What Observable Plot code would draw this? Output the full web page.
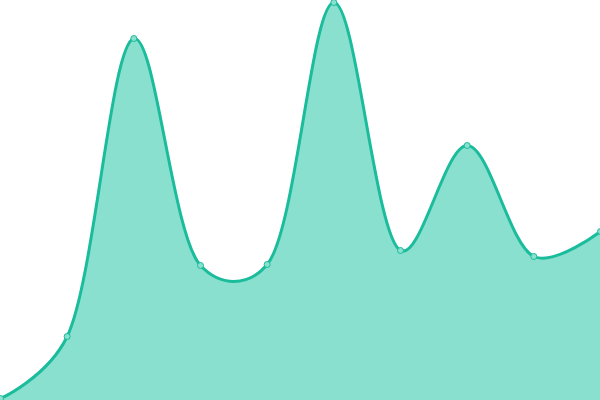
<!DOCTYPE html>
<html>
<head>
<meta charset="utf-8">
<script src="https://cdn.jsdelivr.net/npm/d3@7"></script>
<script src="https://cdn.jsdelivr.net/npm/@observablehq/plot@0.6"></script>
<style>
  html, body { margin: 0; padding: 0; background: #fff; }
</style>
</head>
<body>
<div id="chart"></div>
<script>
const xs = [0, 1, 2, 3, 4, 5, 6, 7, 8, 9];
const values = [0.5, 16, 90.5, 33.75, 34, 99.5, 37.5, 63.75, 36, 42.25];
const data = xs.map((x, i) => ({x, y: values[i]}));

const chart = Plot.plot({
  width: 600,
  height: 400,
  margin: 0,
  x: {domain: [0, 9], axis: null},
  y: {domain: [0, 100], axis: null},
  marks: [
    Plot.areaY(data, {x: "x", y: "y", curve: "catmull-rom", tension: 0.3, fill: "#8ae0cf"}),
    Plot.lineY(data, {x: "x", y: "y", curve: "catmull-rom", tension: 0.3, stroke: "#1abc9c", strokeWidth: 3}),
    Plot.dot(data, {x: "x", y: "y", r: 3, fill: "#8ae0cf", stroke: "#1abc9c", strokeWidth: 1})
  ]
});
document.getElementById("chart").appendChild(chart);
</script>
</body>
</html>
